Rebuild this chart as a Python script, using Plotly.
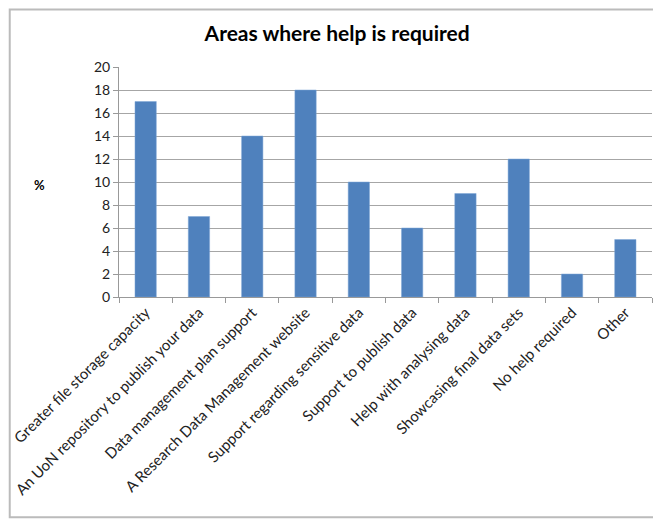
"""Bar chart of areas where help is required."""

import plotly.graph_objects as go

categories = [
    "Greater file storage capacity",
    "An UoN repository to publish your data",
    "Data management plan support",
    "A Research Data Management website",
    "Support regarding sensitive data",
    "Support to publish data",
    "Help with analysing data",
    "Showcasing final data sets",
    "No help required",
    "Other",
]
percent = [17, 7, 14, 18, 10, 6, 9, 12, 2, 5]
y_ticks = [0, 2, 4, 6, 8, 10, 12, 14, 16, 18, 20]

FONT = "Lato, 'Open Sans', sans-serif"

fig = go.Figure(
    go.Bar(
        x=categories,
        y=percent,
        marker=dict(color="#4F81BD", line=dict(color="#7FA6D6", width=0.5)),
        width=0.4,
    )
)

# page body has an 8px margin, so the figure is a bit smaller than the window
fig.update_layout(
    width=653,
    height=515,
    paper_bgcolor="white",
    plot_bgcolor="white",
    margin=dict(l=111, r=9, t=59, b=226, autoexpand=False),
    showlegend=False,
    font=dict(family=FONT, size=12, color="#222"),
    title=dict(
        text="<b>Areas where help is required</b>",
        x=0.504,
        xanchor="center",
        y=0.951,
        yanchor="middle",
        font=dict(family=FONT, size=21, color="black"),
    ),
)

fig.update_xaxes(
    automargin=False,
    tickangle=-45,
    showline=True,
    linecolor="#999",
    linewidth=1,
    ticks="outside",
    ticklen=5,
    tickcolor="#999",
    tickson="boundaries",
    showgrid=False,
    tickfont=dict(size=15, color="#222"),
)
fig.update_yaxes(
    automargin=False,
    range=[0, 20],
    tickvals=y_ticks,
    showline=True,
    linecolor="#999",
    linewidth=1,
    ticks="outside",
    ticklen=5,
    tickcolor="#999",
    showgrid=True,
    gridcolor="#A6A6A6",
    gridwidth=1,
    tickfont=dict(size=14, color="#222"),
)

fig.add_annotation(
    text="<b>%</b>",
    xref="paper",
    yref="paper",
    x=-0.163,
    y=0.487,
    showarrow=False,
    font=dict(family=FONT, size=13, color="black"),
)

# outer chart border
fig.add_shape(
    type="rect",
    xref="paper",
    yref="paper",
    x0=-0.205,
    x1=1.0075,
    y0=-0.958,
    y1=1.25,
    line=dict(color="#BBBBBB", width=2),
    fillcolor="rgba(0,0,0,0)",
    layer="below",
)

fig.write_html("out.html")
